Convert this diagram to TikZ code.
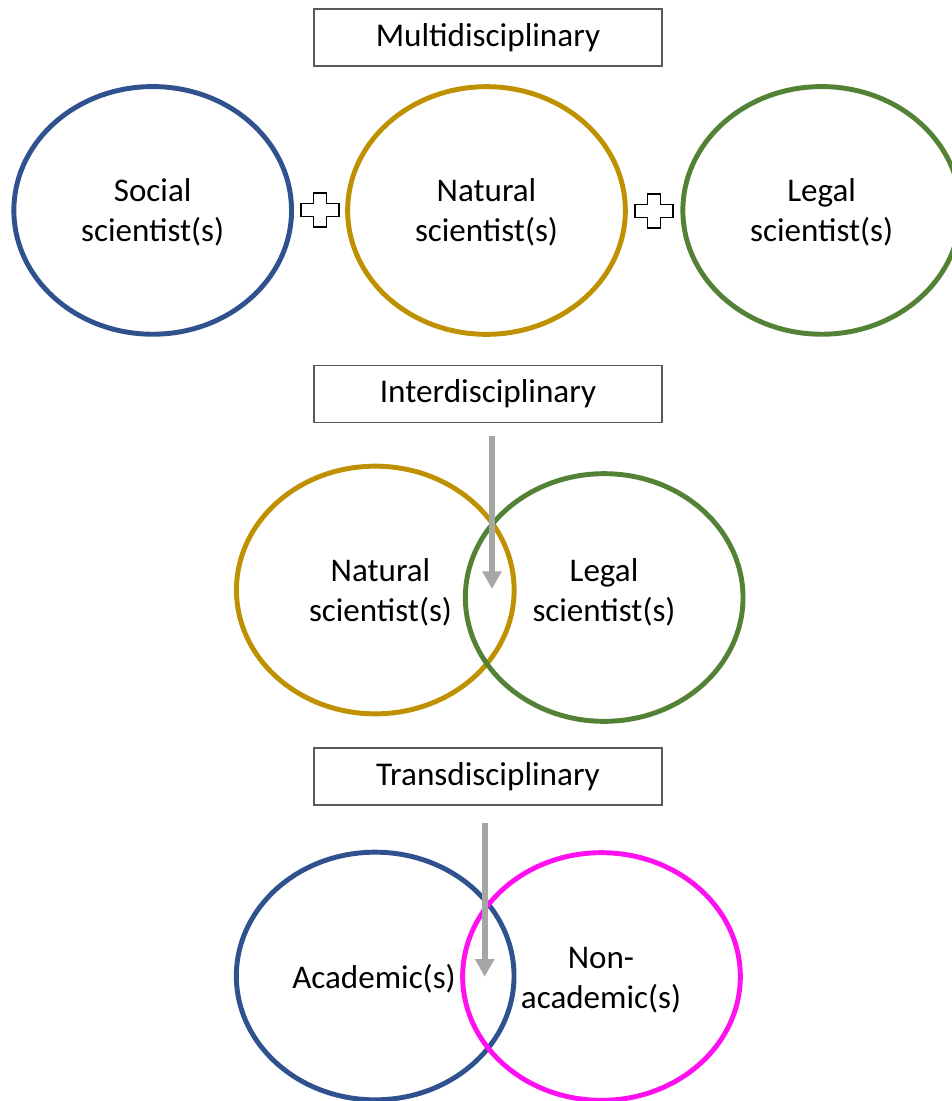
\documentclass[tikz,border=0pt]{standalone}
\usepackage{fontspec}
\setmainfont{Carlito}
\usepackage{xcolor}
\usepackage{tikz}
\usetikzlibrary{arrows.meta,shapes.geometric}
\definecolor{socblue}{HTML}{2F528F}
\definecolor{natgold}{HTML}{BF9000}
\definecolor{leggreen}{HTML}{538135}
\definecolor{nonpink}{HTML}{FF10F0}
\definecolor{arrowgray}{HTML}{A6A6A6}
\definecolor{boxgray}{HTML}{595959}
\tikzset{
  ring/.style={ellipse, draw=#1, line width=3.5pt, minimum width=6.94cm, minimum height=6.19cm, inner sep=0pt},
  lab/.style={align=center, font=\fontsize{23.5}{28.4}\selectfont, inner sep=0pt},
  title/.style={draw=boxgray, line width=0.9pt, minimum width=8.7cm, minimum height=1.425cm, font=\fontsize{23.6}{28}\selectfont, inner sep=0pt},
  flow/.style={draw=arrowgray, line width=4.3pt, -{Triangle[length=12.5pt, width=13pt]}},
  plus/.style={draw=black, fill=white, line width=1.2pt, line join=miter}
}
\begin{document}
\begin{tikzpicture}[x=0.025cm, y=-0.025cm]
  \useasboundingbox (0,0) rectangle (952,1101);
  \fill[white] (0,0) rectangle (952,1101);
  \clip (0,0) rectangle (952,1101);

  % multidisciplinary
  \node[title] (multi) at (488,37.5) {Multidisciplinary};
  \node[ring=socblue] (socM) at (152.7,210.4) {};
  \node[ring=natgold] (natM) at (486.5,210.5) {};
  \node[ring=leggreen] (legM) at (821.7,210.4) {};
  \node[lab] (socMt) at (152.7,212) {Social\\scientist(s)};
  \node[lab] (natMt) at (486.5,212) {Natural\\scientist(s)};
  \node[lab] (legMt) at (821.7,212) {Legal\\scientist(s)};
  \coordinate (plusA) at (320,210);
  \coordinate (plusB) at (654,211);
  \foreach \p in {plusA,plusB}
    \draw[plus, shift={(\p)}] (-6.5,-17) -- (6.5,-17) -- (6.5,-6.5) -- (19,-6.5) -- (19,6.5) -- (6.5,6.5)
      -- (6.5,17) -- (-6.5,17) -- (-6.5,6.5) -- (-19,6.5) -- (-19,-6.5) -- (-6.5,-6.5) -- cycle;

  % interdisciplinary
  \node[title] (inter) at (488,394) {Interdisciplinary};
  \node[ring=natgold] (natI) at (375.3,590) {};
  \node[ring=leggreen] (legI) at (604.2,597.5) {};
  \node[lab] (natIt) at (380.5,592) {Natural\\scientist(s)};
  \node[lab] (legIt) at (604,592) {Legal\\scientist(s)};
  \coordinate (inS) at (492,435.7);
  \coordinate (inE) at (492,589);
  \draw[flow] (inS) -- (inE);

  % transdisciplinary
  \node[title] (trans) at (488,776.5) {Transdisciplinary};
  \node[ring=socblue] (acaT) at (375.2,976) {};
  \node[ring=nonpink] (nonT) at (601.5,976.5) {};
  \node[lab] (acaTt) at (374,979) {Academic(s)};
  \node[lab] (nonTt) at (601,980) {Non-\\academic(s)};
  \coordinate (trS) at (484.7,823.3);
  \coordinate (trE) at (484.7,976.7);
  \draw[flow] (trS) -- (trE);
\end{tikzpicture}
\end{document}
